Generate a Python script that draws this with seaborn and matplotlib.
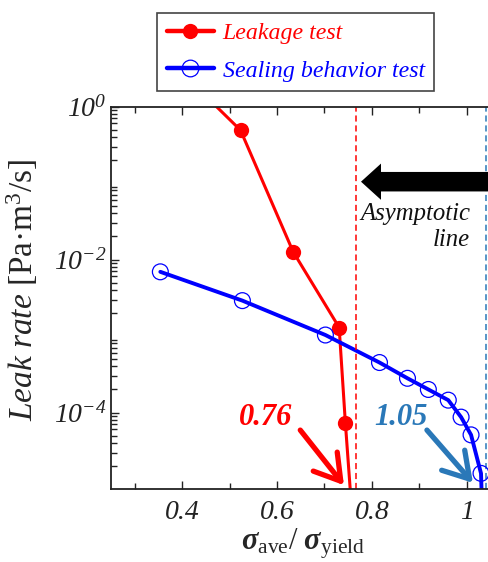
import numpy as np
import pandas as pd
import matplotlib
matplotlib.use("Agg")
import matplotlib.pyplot as plt
import seaborn as sns
from matplotlib.ticker import FuncFormatter, MultipleLocator, LogLocator, NullFormatter
from matplotlib.lines import Line2D

# ---- data ----
leak_x = [0.40, 0.523, 0.634, 0.731, 0.744, 0.766]
leak_y = [2.75, 0.49, 0.0126, 0.00129, 7.4e-5, 1e-6]
seal_x = [0.354, 0.527, 0.702, 0.816, 0.875, 0.919, 0.961, 0.988, 1.009, 1.030, 1.036]
seal_y = [6.9e-3, 2.9e-3, 1.03e-3, 4.5e-4, 2.8e-4, 2.0e-4, 1.45e-4, 8.7e-5, 5.1e-5, 1.6e-5, 1e-6]
seal_marker_n = 10  # last point is the curve continuing below the axis
asym_leak = 0.767
asym_seal = 1.041
label_leak = "0.76"
label_seal = "1.05"
series_names = ["Leakage test", "Sealing behavior test"]
xticks = [0.4, 0.6, 0.8, 1.0]
yticks = [1e-4, 1e-2, 1e0]

sns.set_style("ticks")
plt.rcParams["font.family"] = ["Liberation Serif", "DejaVu Serif"]
plt.rcParams["mathtext.fontset"] = "custom"
plt.rcParams["mathtext.rm"] = "Liberation Serif"
plt.rcParams["mathtext.it"] = "Liberation Serif:italic"
plt.rcParams["mathtext.sf"] = "Liberation Serif:italic"
plt.rcParams["mathtext.bf"] = "Liberation Serif:bold:italic"

fig = plt.figure(figsize=(4.88, 5.62), dpi=100)
ax = fig.add_axes([111 / 488, 1 - 489 / 562, (490.5 - 111) / 488, (489 - 106.5) / 562])

RED = "#ff0000"
BLUE = "#0000ff"
DBLUE = "#2a78b8"

dl = pd.DataFrame({"x": leak_x, "y": leak_y})
ds = pd.DataFrame({"x": seal_x, "y": seal_y})

sns.lineplot(data=dl, x="x", y="y", ax=ax, color=RED, lw=2.2, sort=False,
             estimator=None, marker="o", markersize=11, markeredgewidth=0,
             markerfacecolor=RED, legend=False)
sns.lineplot(data=ds, x="x", y="y", ax=ax, color=BLUE, lw=2.8, sort=False,
             estimator=None, legend=False)
sns.scatterplot(x=seal_x[:seal_marker_n], y=seal_y[:seal_marker_n], ax=ax,
                s=130, facecolor="none", edgecolor=BLUE, linewidth=0.9, zorder=5,
                legend=False)

ax.set_yscale("log")
ax.set_xlim(0.25, 1.05)
ax.set_ylim(1e-5, 1e0)

# asymptotes
ax.axvline(asym_leak, color=RED, lw=1.1, ls=(0, (4, 2.5)))
ax.axvline(asym_seal, color=DBLUE, lw=1.1, ls=(0, (4, 2.5)))

# big black arrow
ax.annotate("", xy=(0.777, 0.104), xytext=(1.10, 0.104),
            xycoords="data", textcoords="data",
            arrowprops=dict(arrowstyle="simple,head_length=0.8,head_width=1.45,tail_width=0.78",
                            mutation_scale=18, color="black", lw=0, shrinkA=0, shrinkB=0),
            annotation_clip=False)
ax.text(1.007, 10 ** -1.575, "Asymptotic\nline", ha="right", va="center",
        fontsize=17.8, style="italic", color="#111111", multialignment="right",
        linespacing=1.2)

# value labels and arrows
ax.text(0.575, 10 ** -4.07, label_leak, color=RED, fontsize=22, style="italic",
        weight="bold", ha="center", va="center")
ax.text(0.862, 10 ** -4.07, label_seal, color=DBLUE, fontsize=22, style="italic",
        weight="bold", ha="center", va="center")
ax.annotate("", xy=(0.741, 10 ** -4.95), xytext=(0.649, 10 ** -4.23),
            arrowprops=dict(arrowstyle="->,head_length=0.9,head_width=0.55",
                            color=RED, lw=3.8, shrinkA=0, shrinkB=0,
                            mutation_scale=20))
ax.annotate("", xy=(1.013, 10 ** -4.92), xytext=(0.916, 10 ** -4.23),
            arrowprops=dict(arrowstyle="->,head_length=0.9,head_width=0.55",
                            color=DBLUE, lw=3.8, shrinkA=0, shrinkB=0,
                            mutation_scale=20))

# ticks
ax.xaxis.set_major_locator(matplotlib.ticker.FixedLocator(xticks))
ax.xaxis.set_minor_locator(MultipleLocator(0.1))
ax.xaxis.set_major_formatter(FuncFormatter(lambda v, p: "%g" % v))
ax.yaxis.set_major_locator(matplotlib.ticker.FixedLocator(yticks))
ax.yaxis.set_minor_locator(LogLocator(base=10, subs=np.arange(2, 10), numticks=20))
ax.yaxis.set_minor_formatter(NullFormatter())
ax.yaxis.set_major_formatter(FuncFormatter(
    lambda v, p: r"$\mathsf{10^{%d}}$" % int(round(np.log10(v)))))
ax.tick_params(axis="both", which="both", direction="in", top=True, right=False,
               colors="#222222", width=1.0)
ax.tick_params(axis="both", which="major", length=6, labelsize=20)
ax.tick_params(axis="both", which="minor", length=4)
ax.tick_params(axis="y", which="major", pad=3)
ax.tick_params(axis="x", which="major", pad=8)
for lab in ax.get_xticklabels() + ax.get_yticklabels():
    lab.set_fontstyle("italic")

for s in ["left", "bottom", "top"]:
    ax.spines[s].set_visible(True)
    ax.spines[s].set_color("#222222")
    ax.spines[s].set_linewidth(1.3)
ax.spines["right"].set_visible(False)

ax.set_xlabel("")
ax.set_ylabel("")
fig.text(22 / 488, 1 - 290 / 562, r"$\mathit{Leak\ rate}\ \mathrm{[Pa·m^3/s]}$",
         rotation=90, ha="center", va="center", fontsize=24)
fig.text(303 / 488, 1 - 544 / 562, r"$\mathbf{σ}_{\mathrm{ave}}/\ \mathbf{σ}_{\mathrm{yield}}$",
         ha="center", va="center", fontsize=22)

# legend
h1 = Line2D([], [], color=RED, lw=3.2, marker="o", markersize=11, markerfacecolor=RED,
            markeredgewidth=0)
h2 = Line2D([], [], color=BLUE, lw=3.2, marker="o", markersize=12, markerfacecolor="none",
            markeredgecolor=BLUE, markeredgewidth=0.9)
leg = fig.legend([h1, h2], series_names, loc="upper left",
                 bbox_to_anchor=(157 / 488, 1 - 13 / 562), frameon=True,
                 fancybox=False, edgecolor="#444444", framealpha=1,
                 prop=dict(family="Liberation Serif", style="italic", size=17.2),
                 labelcolor=[RED, BLUE], handlelength=2.0, handletextpad=0.35,
                 borderpad=0.4, labelspacing=0.65, borderaxespad=0)
leg.get_frame().set_linewidth(1.2)

fig.savefig("out.png", dpi=100)
